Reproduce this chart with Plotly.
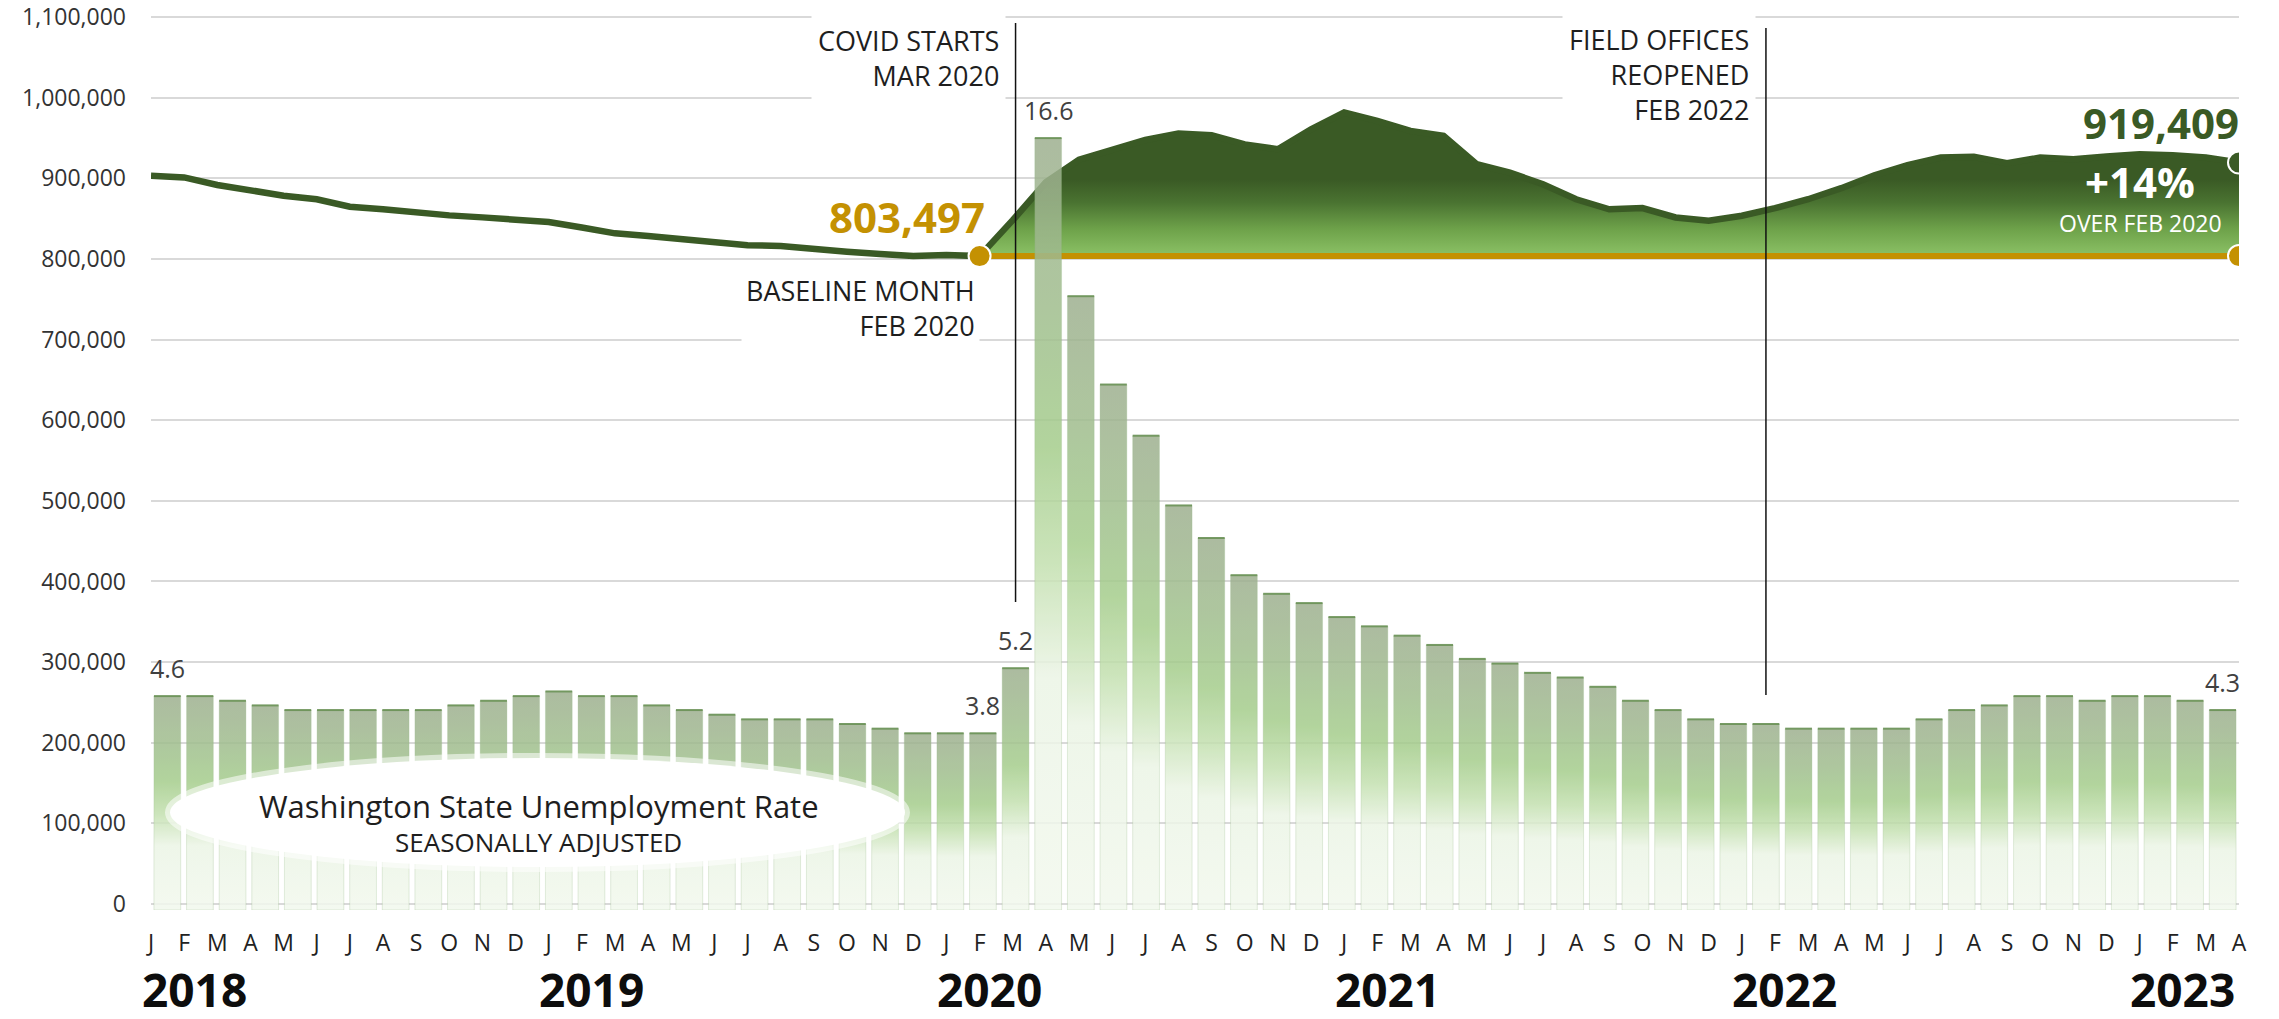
import plotly.graph_objects as go
import pandas as pd

# ---------------- data ----------------
months = pd.date_range("2018-01-01", "2023-04-01", freq="MS")
month_letters = [d.strftime("%b")[0] for d in months]
year_labels = ["2018", "2019", "2020", "2021", "2022", "2023"]

unemployment_rate = [
    4.6, 4.6, 4.5, 4.4, 4.3, 4.3, 4.3, 4.3, 4.3, 4.4, 4.5, 4.6,      # 2018
    4.7, 4.6, 4.6, 4.4, 4.3, 4.2, 4.1, 4.1, 4.1, 4.0, 3.9, 3.8,      # 2019
    3.8, 3.8, 5.2, 16.6, 13.2, 11.3, 10.2, 8.7, 8.0, 7.2, 6.8, 6.6,  # 2020
    6.3, 6.1, 5.9, 5.7, 5.4, 5.3, 5.1, 5.0, 4.8, 4.5, 4.3, 4.1,      # 2021
    4.0, 4.0, 3.9, 3.9, 3.9, 3.9, 4.1, 4.3, 4.4, 4.6, 4.6, 4.5,      # 2022
    4.6, 4.6, 4.5, 4.3,                                              # 2023
]

monthly_count = [
    903100, 901100, 891700, 884600, 878400, 873900, 864700, 861500, 857300, 854000, 851500, 849500,  # 2018
    845700, 839000, 831700, 828500, 824500, 820000, 817000, 816000, 811500, 809000, 806000, 803500,  # 2019
    805000, 803497, 848000, 895000, 923000, 935000, 947500, 955500, 953400, 942000, 936000, 960800,  # 2020
    981500, 971200, 958800, 952600, 917400, 907000, 892600, 874000, 861600, 863000, 851400, 847300,  # 2021
    853500, 863000, 874000, 887700, 903800, 916200, 925700, 926600, 918700, 925700, 923600, 927000,  # 2022
    929800, 928600, 925700, 919409,                                                                  # 2023
]

y_ticks = list(range(0, 1100001, 100000))
baseline_index = 25                     # Feb 2020
rate_label_indices = [0, 25, 26, 27, 63]
events = [
    # text, month index, line bottom / top (paper), text centre (paper)
    ("COVID STARTS<br>MAR 2020", 26, 0.3434, 0.9889, 0.9498),
    ("FIELD OFFICES<br>REOPENED<br>FEB 2022", 49, 0.2397, 0.9833, 0.9309),
]

# ---------------- styling ----------------
FONT = "Open Sans"
DARK_GREEN = "#3a5a25"
GOLD = "#c49102"
TXT = "#1e1e1e"
GRID = "#d9d9d9"

n = len(months)
# the line series runs edge to edge of the category band (line-chart "on tick marks")
line_x = [-0.5 + j * n / (n - 1) for j in range(n)]
base_val = monthly_count[baseline_index]
last_val = monthly_count[-1]
pct = round((last_val / base_val - 1) * 100)

fig = go.Figure()

# gradient area above the baseline (after Feb 2020)
seg_x = line_x[baseline_index:]
seg_y = monthly_count[baseline_index:]
fig.add_trace(go.Scatter(
    x=seg_x + [line_x[-1], line_x[baseline_index]],
    y=seg_y + [base_val, base_val],
    mode="lines", line=dict(width=0), fill="toself",
    fillgradient=dict(
        type="vertical",
        colorscale=[[0, "#8cc266"], [0.35, "#6ea24a"], [0.7, "#4a7331"], [1, DARK_GREEN]],
        start=base_val, stop=base_val + 95000,
    ),
    hoverinfo="skip", showlegend=False,
))

# main line
fig.add_trace(go.Scatter(
    x=line_x, y=monthly_count,
    mode="lines", line=dict(color=DARK_GREEN, width=6.5),
    hoverinfo="skip", showlegend=False,
))

# baseline
fig.add_trace(go.Scatter(
    x=[line_x[baseline_index], line_x[-1]], y=[base_val, base_val],
    mode="lines", line=dict(color=GOLD, width=6),
    hoverinfo="skip", showlegend=False,
))

# bars (unemployment rate) with per-bar vertical gradient, on the secondary y axis
hw = 0.41
bar_scale = [
    [0.0, "rgb(242,248,238)"],
    [0.3, "rgb(236,245,230)"],
    [0.45, "rgb(195,224,175)"],
    [0.6, "rgb(165,205,140)"],
    [0.78, "rgb(160,190,142)"],
    [1.0, "rgb(158,176,144)"],
]
for i, v in enumerate(unemployment_rate):
    fig.add_trace(go.Scatter(
        x=[i - hw, i + hw, i + hw, i - hw, i - hw],
        y=[0, 0, v, v, 0],
        yaxis="y2",
        mode="lines", line=dict(width=0.8, color="rgba(140,180,120,0.35)"),
        fill="toself", opacity=0.85,
        fillgradient=dict(type="vertical", colorscale=bar_scale, start=0, stop=v),
        hoverinfo="skip", showlegend=False,
    ))

# bar top edges
tx, ty = [], []
for i, v in enumerate(unemployment_rate):
    tx += [i - hw, i + hw, None]
    ty += [v, v, None]
fig.add_trace(go.Scatter(
    x=tx, y=ty, yaxis="y2", mode="lines",
    line=dict(color="rgba(105,145,85,0.9)", width=2),
    hoverinfo="skip", showlegend=False,
))

# dots
fig.add_trace(go.Scatter(
    x=[line_x[baseline_index], line_x[-1], line_x[-1]], y=[base_val, base_val, last_val],
    mode="markers",
    marker=dict(size=22, color=[GOLD, GOLD, DARK_GREEN], line=dict(color="white", width=2)),
    hoverinfo="skip", showlegend=False,
))

# ---------------- shapes ----------------
shapes = [
    dict(type="rect", xref="paper", yref="y", x0=0, x1=1, y0=712000, y1=870000,
         fillcolor="white", line=dict(width=0), layer="between"),
    dict(type="rect", xref="paper", yref="y", x0=0, x1=1, y0=690000, y1=712000,
         fillcolor="rgba(255,255,255,0.92)", line=dict(width=0), layer="between"),
]
for _, idx, y0, y1, _c in events:
    shapes.append(dict(type="line", xref="x", yref="paper", x0=idx, x1=idx, y0=y0, y1=y1,
                       line=dict(color="#111111", width=1.5), layer="above"))
shapes.append(dict(type="circle", xref="paper", yref="paper",
                   x0=0.0091, x1=0.3611, y0=0.0479, y1=0.1695,
                   fillcolor="white", line=dict(width=10, color="rgba(255,255,255,0.55)"),
                   layer="above"))

# ---------------- annotations ----------------
ann = []
for i in rate_label_indices:
    ann.append(dict(x=i, y=unemployment_rate[i], xref="x", yref="y2", text=f"{unemployment_rate[i]:.1f}",
                    showarrow=False, yshift=28, font=dict(family=FONT, size=25, color="#404040")))
for text, idx, _y0, _y1, yc in events:
    ann.append(dict(x=idx, y=yc, xref="x", yref="paper", text=text, xanchor="right", yanchor="middle",
                    xshift=-10, align="right", showarrow=False, bgcolor="white", borderpad=6,
                    font=dict(family=FONT, size=27, color=TXT)))
ann.append(dict(x=line_x[baseline_index], y=0.6711, xref="x", yref="paper",
                text="BASELINE MONTH<br>FEB 2020", xanchor="right", yanchor="middle", align="right",
                showarrow=False, bgcolor="white", borderpad=4, font=dict(family=FONT, size=27, color=TXT)))
ann.append(dict(x=line_x[baseline_index], y=base_val, xref="x", yref="y", text=f"<b>{base_val:,}</b>",
                xanchor="right", yanchor="middle", xshift=7, yshift=40, showarrow=False,
                font=dict(family=FONT, size=42, color=GOLD)))
ann.append(dict(x=line_x[-1], y=last_val, xref="x", yref="y", text=f"<b>{last_val:,}</b>",
                xanchor="right", yanchor="middle", xshift=2, yshift=40, showarrow=False,
                font=dict(family=FONT, size=42, color=DARK_GREEN)))
ann.append(dict(x=line_x[-1], y=last_val, xref="x", yref="y", text=f"<b>+{pct}%</b>",
                xanchor="center", yanchor="middle", xshift=-99, yshift=-19, showarrow=False,
                font=dict(family=FONT, size=42, color="white")))
ann.append(dict(x=line_x[-1], y=last_val, xref="x", yref="y", text="OVER FEB 2020",
                xanchor="center", yanchor="middle", xshift=-99, yshift=-60, showarrow=False,
                font=dict(family=FONT, size=23, color="white")))
ann.append(dict(x=0.1858, y=0.1159, xref="paper", yref="paper", text="Washington State Unemployment Rate",
                xanchor="center", yanchor="middle", showarrow=False,
                font=dict(family=FONT, size=31, color=TXT)))
ann.append(dict(x=0.1858, y=0.0753, xref="paper", yref="paper", text="SEASONALLY ADJUSTED",
                xanchor="center", yanchor="middle", showarrow=False,
                font=dict(family=FONT, size=26, color=TXT)))
for k, yl in enumerate(year_labels):
    ann.append(dict(x=-0.5 + (12 * k + 1.3) * n / (n - 1), y=0, xref="x", yref="paper", text=f"<b>{yl}</b>",
                    xanchor="center", yanchor="middle", yshift=-79, showarrow=False,
                    font=dict(family=FONT, size=46, color="#0d0d0d")))

# the page body has an 8px margin: size the figure so the plot lands where the reference has it
fig.update_layout(
    width=2271, height=1011,
    margin=dict(l=143, r=40, t=5, b=109, autoexpand=False),
    plot_bgcolor="white", paper_bgcolor="white",
    showlegend=False, hovermode=False,
    shapes=shapes, annotations=ann,
    xaxis=dict(range=[-0.5, n - 0.5], showgrid=False, zeroline=False, automargin=False,
               tickmode="array", tickvals=line_x, ticktext=month_letters,
               tickfont=dict(family=FONT, size=23, color="#222222"), ticks="", ticklabelstandoff=17,
               showline=False),
    yaxis=dict(range=[-7441, 1104960], tickmode="array", tickvals=y_ticks,
               tickformat=",", showgrid=True, gridcolor=GRID, gridwidth=2, zeroline=False,
               automargin=False, ticklabeloverflow="allow",
               tickfont=dict(family=FONT, size=23, color="#333333"), ticklabelstandoff=24),
    yaxis2=dict(range=[0, 19.29], overlaying="y", side="right", visible=False, automargin=False),
)

fig.write_html("out.html")
